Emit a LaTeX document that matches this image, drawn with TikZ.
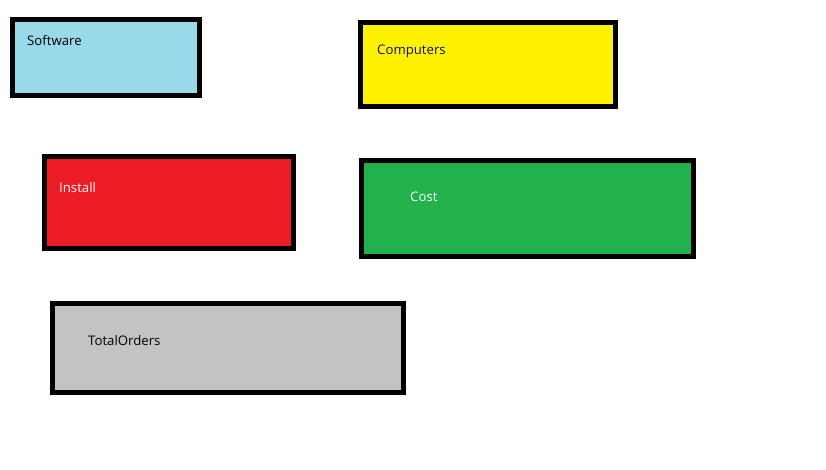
\documentclass[tikz,border=0pt]{standalone}
\usepackage{fontspec}
\setmainfont{Open Sans}
\usetikzlibrary{positioning}
\definecolor{sky}{HTML}{99D9EA}
\definecolor{lemon}{HTML}{FFF200}
\definecolor{scarlet}{HTML}{ED1C24}
\definecolor{grass}{HTML}{22B14C}
\definecolor{ash}{HTML}{C3C3C3}
\definecolor{navy}{HTML}{10105A}
\tikzset{box/.style={draw=black,line width=5pt,inner sep=0pt,outer sep=0pt},lbl/.style={anchor=base west,inner sep=0pt,font=\fontsize{13.2}{15}\selectfont}}
\begin{document}
\begin{tikzpicture}[x=1pt,y=-1pt]
\useasboundingbox[fill=white] (0,0) rectangle (826,470);
\node[box,fill=sky,minimum width=187pt,minimum height=76pt] (software) at (106,57.5) {};
\node[box,fill=lemon,minimum width=255pt,minimum height=84pt] (computers) at (488,64.5) {};
\node[box,fill=scarlet,minimum width=249pt,minimum height=92pt] (install) at (169,202.5) {};
\node[box,fill=grass,minimum width=332pt,minimum height=96pt] (cost) at (527.5,208.5) {};
\node[box,fill=ash,minimum width=351pt,minimum height=89pt] (totalorders) at (228,348) {};
\node[lbl] (softwarelbl) at (27,46) {Software};
\node[lbl,text=navy] (computerslbl) at (377,55) {Computers};
\node[lbl,text=white] (installlbl) at (59,193) {Install};
\node[lbl,text=white] (costlbl) at (410,202) {Cost};
\node[lbl] (totalorderslbl) at (88,345) {TotalOrders};
\end{tikzpicture}
\end{document}
